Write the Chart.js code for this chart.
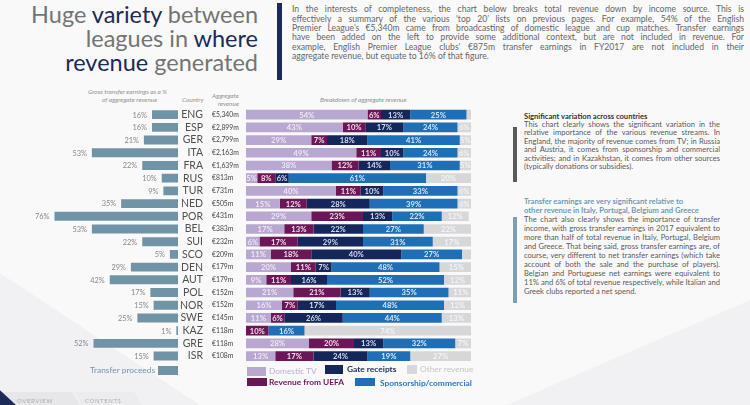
<!DOCTYPE html>
<html>
<head>
<meta charset="utf-8">
<script src="https://cdn.jsdelivr.net/npm/chart.js@4.4.0/dist/chart.umd.min.js"></script>
<style>
  html, body { margin: 0; padding: 0; }
  body { width: 750px; height: 405px; position: relative; overflow: hidden; background: #f9f9fa; font-family: Lato, 'Noto Sans', sans-serif; }
  .abs { position: absolute; }
  .tri { position: absolute; background: #f1f1f3; }
  #title { left: 0; top: 1.5px; width: 258px; text-align: right; font-size: 23.5px; line-height: 24px; color: #747474; font-weight: 400; white-space: nowrap; }
  #title b { font-weight: 400; color: #1b2a57; }
  .para div { text-align: justify; text-align-last: justify; white-space: nowrap; }
  .para div.last { text-align-last: left; }
  #intro { left: 292px; top: 5.3px; width: 452px; font-size: 8.6px; line-height: 9.4px; color: #666; }
  #intro div { white-space: normal; height: 9.4px; overflow: hidden; }
  .side { left: 524px; width: 196px; font-size: 7.6px; color: #5a5a5a; }
  .side div { white-space: normal; overflow: hidden; }
  .side .hd { font-weight: bold; text-align-last: left; }
  .hdr { font-style: italic; color: #8f8f8f; font-size: 6.4px; line-height: 8px; white-space: nowrap; }
  .sw { position: absolute; }
  .lg { position: absolute; font-size: 8.4px; line-height: 10px; white-space: nowrap; }
  .tab { position: absolute; top: 392px; height: 13px; background: #e7e7e9; }
  .tabtxt { position: absolute; top: 397px; font-size: 6px; letter-spacing: 0.6px; color: #acacac; }
  canvas { position: absolute; }
</style>
</head>
<body>
<div class="tri" style="left:0;top:240px;width:200px;height:165px;clip-path:polygon(0 20%,100% 100%,0 100%);"></div>
<div class="tri" style="left:480px;top:300px;width:270px;height:105px;clip-path:polygon(100% 0,100% 100%,10% 100%);"></div>

<div id="title" class="abs">Huge <b>variety</b> between<br>leagues in <b>where</b><br><b>revenue</b> generated</div>
<div class="abs" style="left:277px;top:3px;width:5px;height:77px;background:#1b2a57;"></div>
<div id="intro" class="abs para">
  <div>In the interests of completeness, the chart below breaks total revenue down by income source. This is</div>
  <div>effectively a summary of the various ‘top 20’ lists on previous pages. For example, 54% of the English</div>
  <div>Premier League’s €5,340m came from broadcasting of domestic league and cup matches. Transfer earnings</div>
  <div>have been added on the left to provide some additional context, but are not included in revenue. For</div>
  <div>example, English Premier League clubs’ €875m transfer earnings in FY2017 are not included in their</div>
  <div class="last">aggregate revenue, but equate to 16% of that figure.</div>
</div>

<div class="abs" style="left:513px;top:127px;width:4px;height:55px;background:#5a5a5a;"></div>
<div class="abs side para" style="top:111.5px;line-height:8.4px;">
  <div class="hd" style="color:#333;">Significant variation across countries</div>
  <div>This chart clearly shows the significant variation in the</div>
  <div>relative importance of the various revenue streams. In</div>
  <div>England, the majority of revenue comes from TV; in Russia</div>
  <div>and Austria, it comes from sponsorship and commercial</div>
  <div>activities; and in Kazakhstan, it comes from other sources</div>
  <div class="last">(typically donations or subsidies).</div>
</div>

<div class="abs" style="left:513px;top:217px;width:4px;height:86px;background:#7a9fb5;"></div>
<div class="abs side para" style="top:196.5px;line-height:9px;">
  <div class="hd" style="color:#6b9bb5;">Transfer earnings are very significant relative to</div>
  <div class="hd" style="color:#6b9bb5;">other revenue in Italy, Portugal, Belgium and Greece</div>
  <div>The chart also clearly shows the importance of transfer</div>
  <div>income, with gross transfer earnings in 2017 equivalent to</div>
  <div>more than half of total revenue in Italy, Portugal, Belgium</div>
  <div>and Greece. That being said, gross transfer earnings are, of</div>
  <div>course, very different to net transfer earnings (which take</div>
  <div>account of both the sale and the purchase of players).</div>
  <div>Belgian and Portuguese net earnings were equivalent to</div>
  <div>11% and 6% of total revenue respectively, while Italian and</div>
  <div class="last">Greek clubs reported a net spend.</div>
</div>

<div class="abs hdr" style="left:88px;top:88px;">Gross transfer earnings as a %</div>
<div class="abs hdr" style="left:102px;top:96px;">of aggregate revenue</div>
<div class="abs hdr" style="left:182px;top:96px;">Country</div>
<div class="abs hdr" style="left:212px;top:92px;">Aggregate</div>
<div class="abs hdr" style="left:218px;top:100px;">revenue</div>
<div class="abs hdr" style="left:320px;top:96px;">Breakdown of aggregate revenue</div>

<canvas id="transferChart" width="215" height="285" style="left:0;top:95px;"></canvas>
<canvas id="revenueChart" width="270" height="285" style="left:212px;top:95px;"></canvas>

<div class="lg" style="left:90px;top:365px;color:#7096ad;">Transfer proceeds</div>
<div class="sw" style="left:158px;top:366px;width:20px;height:9px;background:#7193a6;"></div>

<div class="sw" style="left:247px;top:367px;width:19px;height:9px;background:#b8a7d0;"></div>
<div class="lg" style="left:269px;top:366px;color:#bcaed3;">Domestic TV</div>
<div class="sw" style="left:325px;top:365px;width:18px;height:9px;background:#15265a;"></div>
<div class="lg" style="left:347px;top:364px;color:#1b2a57;font-weight:bold;">Gate receipts</div>
<div class="sw" style="left:407px;top:365px;width:10px;height:9px;background:#d7d7da;"></div>
<div class="lg" style="left:420px;top:364px;color:#c6c6c9;">Other revenue</div>
<div class="sw" style="left:247px;top:378px;width:20px;height:8px;background:#6b1757;"></div>
<div class="lg" style="left:269px;top:377px;color:#6b1757;font-weight:bold;">Revenue from UEFA</div>
<div class="sw" style="left:355px;top:378px;width:20px;height:8px;background:#1f6fb6;"></div>
<div class="lg" style="left:380px;top:378px;color:#2a78c0;font-weight:bold;">Sponsorship/commercial</div>

<div class="tab" style="left:0;width:80px;clip-path:polygon(0 0,72px 0,80px 100%,0 100%);"></div>
<div class="tab" style="left:74px;width:68px;background:#ececee;clip-path:polygon(0 0,60px 0,68px 100%,8px 100%);"></div>
<div class="abs" style="left:0;top:384px;width:16px;height:21px;background:#1b2a57;clip-path:polygon(0 30%,100% 100%,0 100%);"></div>
<div class="tabtxt" style="left:17px;">OVERVIEW</div>
<div class="tabtxt" style="left:85px;">CONTENTS</div>

<script>
const countries = ['ENG', 'ESP', 'GER', 'ITA', 'FRA', 'RUS', 'TUR', 'NED', 'POR', 'BEL',
  'SUI', 'SCO', 'DEN', 'AUT', 'POL', 'NOR', 'SWE', 'KAZ', 'GRE', 'ISR'];
const aggregateRevenue = ['€5,340m', '€2,899m', '€2,799m', '€2,163m', '€1,639m', '€813m', '€731m', '€505m', '€431m', '€383m',
  '€232m', '€209m', '€179m', '€179m', '€152m', '€152m', '€145m', '€118m', '€118m', '€108m'];
const transferPct = [16, 16, 21, 53, 22, 10, 9, 35, 76, 53, 22, 5, 29, 42, 17, 15, 25, 1, 52, 15];
const domesticTV  = [54, 43, 29, 49, 38, 5, 40, 15, 29, 17, 6, 11, 20, 9, 21, 16, 11, 0, 28, 13];
const uefa        = [6, 10, 7, 11, 12, 8, 11, 12, 23, 13, 17, 18, 11, 11, 21, 7, 6, 10, 20, 17];
const gate        = [13, 17, 18, 10, 14, 6, 10, 28, 13, 22, 29, 40, 7, 16, 13, 17, 26, 0, 13, 24];
const sponsorship = [25, 24, 41, 24, 31, 61, 33, 39, 22, 27, 31, 27, 48, 52, 35, 48, 44, 16, 32, 19];
const otherRev    = [2, 6, 5, 6, 5, 20, 6, 6, 12, 22, 17, 4, 15, 12, 11, 12, 13, 74, 7, 27];

const FONT = 'Lato, "Noto Sans", sans-serif';

// draws "16%" etc. just left of each transfer bar
const transferLabels = {
  id: 'transferLabels',
  afterDatasetsDraw(chart) {
    const { ctx } = chart;
    const meta = chart.getDatasetMeta(0);
    ctx.save();
    ctx.font = '7.4px ' + FONT;
    ctx.fillStyle = '#8a8a8a';
    ctx.textAlign = 'right';
    ctx.textBaseline = 'middle';
    meta.data.forEach((bar, i) => {
      ctx.fillText(transferPct[i] + '%', bar.x - 5, bar.y + 0.5);
    });
    ctx.restore();
  }
};

// percentage labels inside the stacked segments
const segmentLabels = {
  id: 'segmentLabels',
  afterDatasetsDraw(chart) {
    const { ctx } = chart;
    ctx.save();
    ctx.font = 'bold 7.6px ' + FONT;
    ctx.textAlign = 'center';
    ctx.textBaseline = 'middle';
    chart.data.datasets.forEach((ds, di) => {
      const meta = chart.getDatasetMeta(di);
      meta.data.forEach((bar, i) => {
        const v = ds.data[i];
        if (!v || v < 5) return;
        ctx.fillStyle = ds.labelColor;
        ctx.fillText(v + '%', (bar.x + bar.base) / 2, bar.y + 0.5);
      });
    });
    ctx.restore();
  }
};

new Chart(document.getElementById('transferChart'), {
  type: 'bar',
  data: {
    labels: countries,
    datasets: [{ data: transferPct, backgroundColor: '#7193a6', barPercentage: 0.7, categoryPercentage: 1 }]
  },
  options: {
    indexAxis: 'y',
    responsive: false,
    animation: false,
    layout: { padding: { left: 15.5, right: 12, top: 13.3, bottom: 17.6 } },
    plugins: { legend: { display: false }, tooltip: { enabled: false } },
    scales: {
      x: { display: false, reverse: true, min: 0, max: 100 },
      y: {
        position: 'right',
        grid: { display: false },
        border: { display: false },
        afterFit(scale) { scale.width = 25; },
        ticks: { autoSkip: false, crossAlign: 'far', padding: 0, color: '#505050', font: { family: FONT, size: 10.5 } }
      }
    }
  },
  plugins: [transferLabels]
});

new Chart(document.getElementById('revenueChart'), {
  type: 'bar',
  data: {
    labels: aggregateRevenue,
    datasets: [
      { label: 'Domestic TV', data: domesticTV, backgroundColor: '#b8a7d0', labelColor: '#eee8f5' },
      { label: 'Revenue from UEFA', data: uefa, backgroundColor: '#6b1757', labelColor: '#f3dcec' },
      { label: 'Gate receipts', data: gate, backgroundColor: '#15265a', labelColor: '#d5def2' },
      { label: 'Sponsorship/commercial', data: sponsorship, backgroundColor: '#1f6fb6', labelColor: '#d3e8fa' },
      { label: 'Other revenue', data: otherRev, backgroundColor: '#d7d7da', labelColor: '#f4f4f6' }
    ]
  },
  options: {
    indexAxis: 'y',
    responsive: false,
    animation: false,
    datasets: { bar: { barPercentage: 0.76, categoryPercentage: 1 } },
    layout: { padding: { left: 0, right: 11, top: 13.3, bottom: 17.6 } },
    plugins: { legend: { display: false }, tooltip: { enabled: false } },
    scales: {
      x: { display: false, stacked: true, min: 0, max: 100 },
      y: {
        stacked: true,
        grid: { display: false },
        border: { display: false },
        afterFit(scale) { scale.width = 34; },
        ticks: { autoSkip: false, crossAlign: 'far', padding: 0, color: '#454545', font: { family: FONT, size: 6.8 } }
      }
    }
  },
  plugins: [segmentLabels]
});
</script>
</body>
</html>
